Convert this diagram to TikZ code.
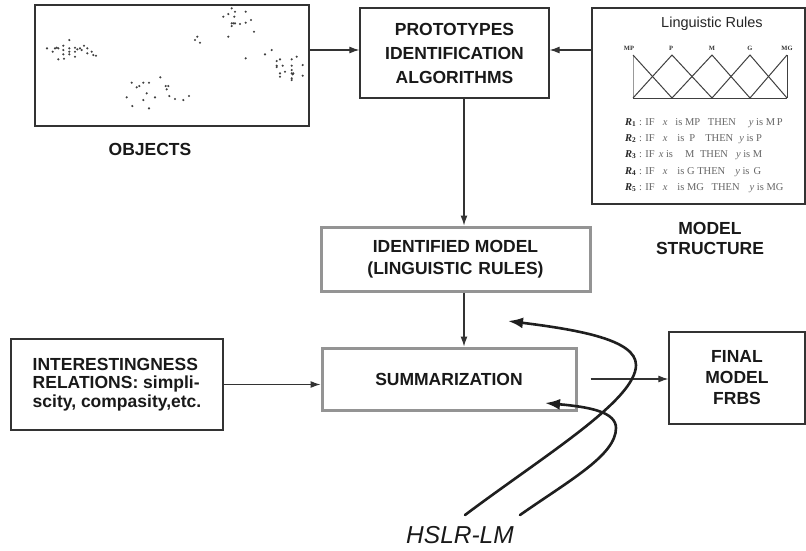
\documentclass[tikz,border=0pt]{standalone}
\usepackage{fontspec}
\setmainfont{Liberation Sans}
\newfontfamily\rulefont{Liberation Serif}
\usetikzlibrary{arrows.meta}
\newcommand{\Rr}[1]{{\color{black!85}\textbf{\textit{R}}\textsubscript{\textbf{#1}}}}
\begin{document}
\begin{tikzpicture}[x=1pt,y=-1pt,
  box/.style={draw=black!80, line width=1.3pt, fill=white, inner sep=0pt},
  graybox/.style={draw=black!42, line width=3pt, fill=white, inner sep=0pt},
  lbl/.style={font=\bfseries\fontsize{17.5}{22}\selectfont, align=center, text=black!90},
  arr/.style={draw=black!80, line width=1.1pt, -{Latex[length=10pt,width=7pt]}},
  loopline/.style={draw=black!88, line width=2.6pt, line cap=round, -{Latex[length=15pt,width=11pt]}},
  mf/.style={draw=black!75, line width=1pt},
  mflabel/.style={font=\rulefont\bfseries\fontsize{6.5}{7}\selectfont, text=black!80},
  rulerow/.style={anchor=west, inner sep=0pt, font=\rulefont\fontsize{10.5}{11}\selectfont, text=black!60}]
\useasboundingbox (0,0) rectangle (806,550);

% ---- data objects (scatter plot) ----
\node[box, minimum width=274, minimum height=121] (objects) at (172,65.5) {};
\foreach \px/\py in {47/48.3,52.7/51.7,55/48.3,56.7/47.7,58.3/48.3,63.3/45.7,63.3/50,63.3/54.3,58.3/59.3,64/58.7,
  69.3/40,69.3/48.3,69.3/51.7,69.3/54.3,75/47.7,75/51.7,75/56.7,77.3/49.3,80/48.3,81.7/50,84/45.7,87.3/48.3,
  87.3/53.3,91.7/51.7,93.3/55,96/55.7,
  131.7/82.7,136.7/87.3,139.3/86,143.3/82.7,149/82.7,160.3/77.3,165.7/86,168.3/86,166.7/89.3,146.7/93.3,
  126.7/97.3,143.3/100,155/97.3,169.3/96,175/99,183.3/100,189/96,132.3/106,149/108.3,
  195/40,197.3/36.7,200/42.7,
  231.7/8.3,235/11.7,228.3/14,223.3/16.7,234.3/16.7,245.7/11.7,251/20,231.7/23.3,233.3/23.3,235/23.3,
  240/24,245.7/22.7,231.7/26,254/31.7,228.3/36.7,
  245.7/58.3,265/54.3,271.7/50,276.7/61,276.7/65.7,276.7/67,280/59.3,282.7/65.7,285/71.7,280/73.3,
  280/76.7,291.7/59.3,291.7/65.7,291.7/70,291.7/73.3,292.7/74.3,291.7/78.3,291.7/80,296.7/56.7,
  302.7/65,302.7/75.7,293.3/73.3}
  \fill[black!75] (\px,\py) circle (1.2);
\node[lbl] (objlabel) at (150,149.5) {OBJECTS};

% ---- identification algorithms ----
\node[box, lbl, minimum width=189, minimum height=90,
      font=\bfseries\fontsize{17.5}{24}\selectfont] (protos) at (454.5,53)
      {PROTOTYPES\\IDENTIFICATION\\ALGORITHMS};

% ---- model structure panel ----
\node[box, minimum width=213, minimum height=196] (structure) at (698.5,106) {};
\node[font=\fontsize{14.5}{16}\selectfont, text=black!85] (lrtitle) at (712,24) {Linguistic Rules};
\foreach \lx/\lt in {629/MP,671/P,712/M,750/G,787/MG}
  \node[mflabel] at (\lx,48) {\lt};
\draw[black!40, line width=0.8pt] (633,55) -- (633,98);
\draw[mf] (633,98) -- (787,98);
\draw[mf] (787,55) -- (787,98);
\draw[mf] (633,55) -- (672,98);
\draw[mf] (633,98) -- (672,55) -- (712,98);
\draw[mf] (672,98) -- (712,55) -- (750,98);
\draw[mf] (712,98) -- (750,55) -- (787,98);
\draw[mf] (750,98) -- (787,55);
\node[rulerow] at (625,123) {\Rr{1} : IF\hspace{8pt}\textit{x}\hspace{8pt}is MP\hspace{5pt} THEN\hspace{13pt}\textit{y} is M\,P};
\node[rulerow] at (625,139) {\Rr{2} : IF\hspace{8pt}\textit{x}\hspace{10pt}is\hspace{5pt}P\hspace{10pt}THEN\hspace{6pt}\textit{y} is P};
\node[rulerow] at (625,155) {\Rr{3} : IF\hspace{4pt}\textit{x} is\hspace{12pt}M\hspace{3pt} THEN\hspace{8pt}\textit{y} is M};
\node[rulerow] at (625,172) {\Rr{4} : IF\hspace{8pt}\textit{x}\hspace{10pt}is G THEN\hspace{10pt}\textit{y} is\hspace{4pt}G};
\node[rulerow] at (625,188) {\Rr{5} : IF\hspace{8pt}\textit{x}\hspace{10pt}is MG\hspace{5pt} THEN\hspace{10pt}\textit{y} is MG};
\node[lbl, font=\bfseries\fontsize{17.5}{20}\selectfont] (mslabel) at (710,238) {MODEL\\STRUCTURE};

% ---- identified model ----
\node[graybox, lbl, minimum width=269, minimum height=64] (ident) at (455.5,259)
      {IDENTIFIED MODEL\\(LINGUISTIC\hspace{6pt}RULES)};

% ---- summarization ----
\node[graybox, lbl, minimum width=254, minimum height=62] (summ) at (449,379) {SUMMARIZATION};

% ---- criteria ----
\node[box, lbl, align=left, minimum width=212, minimum height=91,
      font=\bfseries\fontsize{17.5}{18.5}\selectfont] (interest) at (117,384.5)
      {INTERESTINGNESS\\RELATIONS: simpli-\\scity, compasity,etc.};

% ---- final model ----
\node[box, lbl, minimum width=136, minimum height=92,
      font=\bfseries\fontsize{17.5}{21}\selectfont] (final) at (737,378) {FINAL\\MODEL\\FRBS};

% ---- connectors ----
\coordinate (toprow) at (0,50);
\coordinate (midcol) at (464,0);
\draw[arr] (objects.east |- toprow) -- (protos.west |- toprow);
\draw[arr] (structure.west |- toprow) -- (protos.east |- toprow);
\draw[arr] (midcol |- protos.south) -- (midcol |- ident.north);
\draw[arr] (midcol |- ident.south) -- (midcol |- summ.north);
\draw[arr] (interest.east) -- (interest.east -| summ.west);
\draw[arr] ([xshift=13]summ.east) -- (summ.east -| final.west);

% ---- HSLR-LM loops ----
\node[font=\itshape\fontsize{24.5}{28}\selectfont, text=black!90] (hslr) at (460,535) {HSLR-LM};
\coordinate (outerstart) at (465,515);
\coordinate (outertip) at (508,321);
\coordinate (innerstart) at (520,515);
\coordinate (innertip) at (545,403);
\draw[loopline] (outerstart) .. controls (545,455) and (636,400) .. (636,365)
  .. controls (636,340) and (580,330) .. (outertip);
\draw[loopline] (innerstart) .. controls (570,480) and (616,455) .. (616,428)
  .. controls (616,412) and (590,407) .. (innertip);
\end{tikzpicture}
\end{document}
